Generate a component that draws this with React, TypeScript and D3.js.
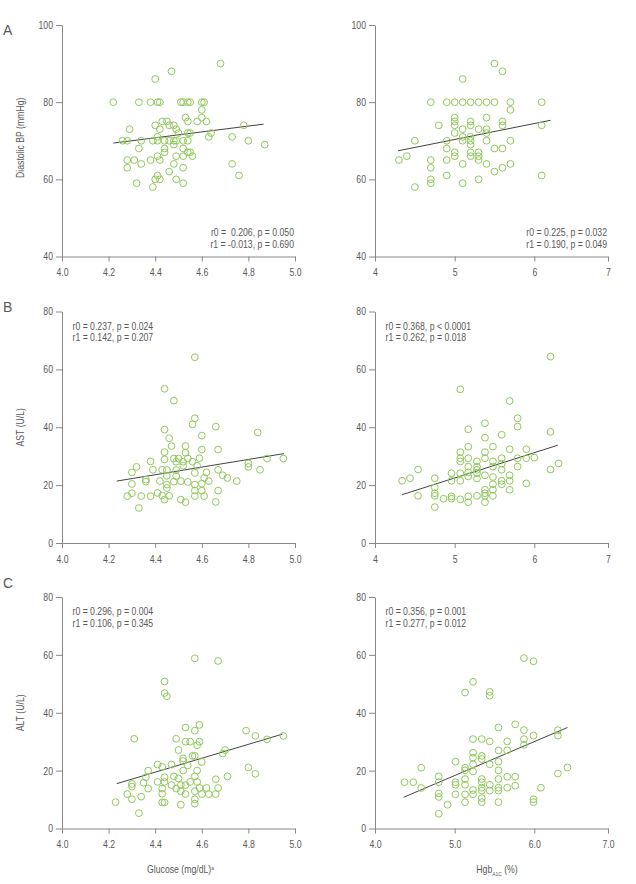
import React, { useEffect, useRef } from 'react';
import * as d3 from 'd3';

type Pt = [number, number];

// x: log glucose, y: diastolic BP
const glucoseDbp: Pt[] = [
  [4.22, 80], [4.33, 80], [4.38, 80], [4.41, 80], [4.42, 80], [4.51, 80], [4.52, 80], [4.54, 80], [4.55, 80], [4.6, 80], [4.61, 80],
  [4.68, 90], [4.47, 88], [4.4, 86], [4.6, 78], [4.53, 76], [4.6, 76],
  [4.43, 75], [4.45, 75], [4.54, 75], [4.58, 75], [4.62, 75],
  [4.4, 74], [4.46, 74], [4.48, 74], [4.78, 74],
  [4.42, 73], [4.29, 73], [4.49, 73],
  [4.5, 72], [4.54, 72], [4.55, 72], [4.64, 72],
  [4.63, 71], [4.73, 71], [4.41, 71],
  [4.26, 70], [4.28, 70], [4.34, 70], [4.39, 70], [4.41, 70], [4.44, 70], [4.46, 70], [4.48, 70], [4.49, 70], [4.52, 70], [4.54, 70], [4.8, 70],
  [4.87, 69], [4.48, 69],
  [4.33, 68], [4.44, 68], [4.52, 68],
  [4.44, 67], [4.54, 67], [4.55, 67],
  [4.41, 66], [4.49, 66], [4.52, 66], [4.56, 66],
  [4.28, 65], [4.31, 65], [4.38, 65], [4.42, 65],
  [4.34, 64], [4.48, 64], [4.73, 64],
  [4.28, 63], [4.52, 63],
  [4.46, 62],
  [4.41, 61], [4.76, 61],
  [4.4, 60], [4.42, 60], [4.49, 60],
  [4.32, 59], [4.52, 59],
  [4.39, 58],
];

// x: HbA1c, y: diastolic BP
const hgbDbp: Pt[] = [
  [4.3, 65], [4.4, 66], [4.5, 70], [4.5, 58],
  [4.7, 80], [4.7, 65], [4.7, 63], [4.7, 60], [4.7, 59],
  [4.8, 74],
  [4.9, 80], [4.9, 70], [4.9, 68], [4.9, 65], [4.9, 61],
  [5.0, 80], [5.0, 76], [5.0, 75], [5.0, 74], [5.0, 72], [5.0, 67], [5.0, 66],
  [5.1, 86], [5.1, 80], [5.1, 73], [5.1, 71], [5.1, 70], [5.1, 64], [5.1, 59],
  [5.2, 80], [5.2, 75], [5.2, 74], [5.2, 71], [5.2, 70], [5.2, 69], [5.2, 67], [5.2, 66],
  [5.3, 80], [5.3, 73], [5.3, 67], [5.3, 66], [5.3, 65], [5.3, 60],
  [5.4, 80], [5.4, 76], [5.4, 73], [5.4, 72], [5.4, 70], [5.4, 64],
  [5.5, 90], [5.5, 80], [5.5, 68], [5.5, 62],
  [5.6, 88], [5.6, 75], [5.6, 74], [5.6, 68], [5.6, 63],
  [5.7, 80], [5.7, 78], [5.7, 70], [5.7, 64],
  [6.1, 80], [6.1, 74], [6.1, 61],
];

// x: log glucose, y: AST
const glucoseAst: Pt[] = [
  [4.57, 64.2], [4.44, 53.3], [4.48, 49.2], [4.57, 43.1], [4.56, 41.0], [4.66, 40.2], [4.44, 39.2], [4.84, 38.2], [4.6, 37.1], [4.46, 36.2],
  [4.47, 33.5], [4.53, 33.5], [4.6, 32.3], [4.67, 32.3], [4.44, 31.4], [4.53, 31.2],
  [4.48, 29.2], [4.5, 29.2], [4.54, 29.2], [4.59, 29.3], [4.44, 28.9], [4.49, 28.1], [4.52, 28.1], [4.38, 28.2], [4.56, 28.1], [4.88, 29.2], [4.95, 29.2],
  [4.8, 27.5], [4.8, 26.3], [4.58, 26.7], [4.32, 26.3], [4.52, 26.7],
  [4.3, 24.4], [4.39, 25.3], [4.43, 25.3], [4.45, 25.2], [4.67, 25.3], [4.85, 25.3], [4.62, 24.4], [4.57, 24.2],
  [4.69, 23.4], [4.71, 22.5], [4.49, 23.1], [4.45, 23.2], [4.36, 21.9], [4.42, 21.4], [4.48, 21.2], [4.51, 21.4], [4.54, 21.1], [4.61, 22.5], [4.63, 21.4], [4.75, 21.4], [4.36, 21.2],
  [4.3, 20.4], [4.45, 20.2], [4.57, 20.2], [4.6, 20.5], [4.45, 19.0],
  [4.6, 18.1], [4.67, 18.1], [4.57, 18.1], [4.41, 17.3], [4.3, 17.2],
  [4.28, 16.2], [4.34, 16.2], [4.38, 16.2], [4.43, 16.4], [4.46, 16.3], [4.57, 16.2], [4.61, 16.2],
  [4.44, 15.0], [4.51, 15.0], [4.53, 14.1], [4.66, 14.2], [4.33, 12.1], [4.49, 25.2],
];

// x: HbA1c, y: AST
const hgbAst: Pt[] = [
  [4.34, 21.5], [4.44, 22.4], [4.54, 25.4], [4.54, 16.3],
  [4.75, 22.4], [4.75, 19.2], [4.75, 17.2], [4.75, 16.3], [4.75, 12.4],
  [4.86, 15.3],
  [4.96, 24.1], [4.96, 21.5], [4.96, 16.1], [4.96, 15.3],
  [5.07, 53.1], [5.07, 31.4], [5.07, 29.3], [5.07, 28.2], [5.07, 24.1], [5.07, 21.5], [5.07, 15.1],
  [5.17, 39.3], [5.17, 33.3], [5.17, 29.3], [5.17, 26.4], [5.17, 24.4], [5.17, 23.0], [5.17, 16.1], [5.17, 14.1],
  [5.28, 28.2], [5.28, 26.4], [5.28, 25.3], [5.28, 24.1], [5.28, 22.3], [5.28, 16.3],
  [5.38, 41.4], [5.38, 36.4], [5.38, 31.4], [5.38, 29.3], [5.38, 23.4], [5.38, 18.4], [5.38, 17.2], [5.38, 16.3], [5.38, 14.1],
  [5.48, 33.3], [5.48, 28.2], [5.48, 26.4], [5.48, 22.8], [5.48, 20.3], [5.48, 18.4], [5.48, 16.3],
  [5.59, 37.4], [5.59, 29.3], [5.59, 27.4], [5.59, 25.3], [5.59, 21.5], [5.59, 20.3],
  [5.69, 49.1], [5.69, 32.4], [5.69, 23.4], [5.69, 21.5], [5.69, 18.4],
  [5.79, 43.1], [5.79, 40.2], [5.79, 29.3], [5.79, 26.4],
  [5.9, 32.4], [5.9, 29.3], [5.9, 20.6],
  [6.0, 29.5],
  [6.22, 64.4], [6.22, 38.4], [6.22, 25.4],
  [6.33, 27.5],
];

// x: log glucose, y: ALT
const glucoseAlt: Pt[] = [
  [4.57, 58.8], [4.67, 57.9], [4.44, 50.8], [4.44, 46.8], [4.45, 45.7],
  [4.59, 35.8], [4.53, 34.9], [4.57, 33.8], [4.79, 33.8], [4.83, 32.0], [4.95, 32.0], [4.88, 30.8],
  [4.31, 31.0], [4.49, 31.0], [4.53, 30.0], [4.55, 30.0], [4.59, 30.0], [4.58, 28.8],
  [4.5, 27.1], [4.7, 27.1], [4.69, 25.9], [4.56, 25.1], [4.57, 25.1], [4.52, 24.2], [4.52, 23.3], [4.6, 23.0],
  [4.47, 22.1], [4.41, 22.1], [4.43, 21.3], [4.37, 20.0], [4.52, 20.0], [4.58, 20.0], [4.8, 21.1], [4.54, 21.8],
  [4.36, 17.7], [4.44, 17.7], [4.48, 18.0], [4.57, 18.0], [4.66, 17.0], [4.71, 18.0], [4.83, 18.9], [4.5, 17.3],
  [4.41, 16.1], [4.44, 16.1], [4.35, 15.8], [4.3, 15.4], [4.55, 16.1], [4.58, 16.1],
  [4.47, 15.0], [4.51, 15.0], [4.3, 14.5], [4.37, 13.8], [4.43, 13.8], [4.49, 13.8], [4.53, 15.0],
  [4.59, 14.0], [4.62, 14.0], [4.67, 14.0], [4.51, 12.9], [4.57, 12.9],
  [4.43, 12.0], [4.6, 11.9], [4.63, 11.9], [4.66, 11.9], [4.53, 11.9], [4.28, 11.9],
  [4.34, 11.0], [4.3, 10.1], [4.57, 10.1], [4.57, 8.6], [4.23, 9.1], [4.43, 9.0], [4.44, 9.0], [4.51, 8.2], [4.33, 5.3],
];

// x: HbA1c, y: ALT
const hgbAlt: Pt[] = [
  [5.87, 58.9], [5.99, 57.8], [5.23, 50.7], [5.13, 47.0], [5.44, 47.2], [5.44, 45.9],
  [5.76, 36.0], [5.55, 34.9], [5.87, 34.0], [6.32, 34.0], [6.32, 32.1], [5.99, 32.1],
  [5.23, 30.9], [5.34, 30.9], [5.44, 30.1], [5.66, 30.1], [5.87, 30.9], [5.87, 28.9],
  [5.55, 27.0], [5.66, 27.0], [5.23, 26.2], [5.23, 24.5], [5.34, 25.1], [5.34, 24.0],
  [5.01, 23.1], [5.55, 23.1], [5.23, 22.2], [5.44, 22.2], [5.13, 21.0], [5.13, 20.1], [5.23, 19.7], [5.55, 20.1],
  [4.58, 21.0], [6.45, 21.1], [6.32, 19.0],
  [4.8, 18.0], [5.66, 17.9], [5.76, 17.9], [5.13, 17.1], [5.34, 17.1], [5.55, 17.1],
  [4.37, 16.0], [4.48, 16.0], [4.8, 16.0], [5.01, 16.0], [5.34, 16.0],
  [5.01, 15.1], [5.13, 15.1], [5.44, 15.1], [5.76, 14.8],
  [4.58, 14.0], [5.55, 14.1], [5.66, 14.1], [6.09, 14.1], [5.34, 14.1],
  [5.23, 13.3], [5.44, 13.1], [5.55, 13.1], [5.34, 13.1],
  [4.8, 12.1], [5.01, 11.8], [5.13, 11.8], [5.23, 11.8],
  [4.8, 10.9], [5.34, 10.5], [5.99, 10.1], [5.99, 9.1], [5.34, 9.1], [5.13, 9.1], [5.55, 9.1],
  [4.91, 8.2], [4.8, 5.1],
];

// fitted lines, start and end point
const glucoseDbpFit: Pt[] = [[4.22, 69.4], [4.865, 74.3]];
const hgbDbpFit: Pt[] = [[4.29, 67.4], [6.22, 75.3]];
const glucoseAstFit: Pt[] = [[4.235, 21.4], [4.953, 30.9]];
const hgbAstFit: Pt[] = [[4.34, 16.7], [6.32, 33.8]];
const glucoseAltFit: Pt[] = [[4.235, 15.5], [4.946, 32.6]];
const hgbAltFit: Pt[] = [[4.36, 10.8], [6.45, 34.9]];

const glucoseDbpStats = ['r0 =  0.206, p = 0.050', 'r1 = -0.013, p = 0.690'];
const hgbDbpStats = ['r0 = 0.225, p = 0.032', 'r1 = 0.190, p = 0.049'];
const glucoseAstStats = ['r0 = 0.237, p = 0.024', 'r1 = 0.142, p = 0.207'];
const hgbAstStats = ['r0 = 0.368, p < 0.0001', 'r1 = 0.262, p = 0.018'];
const glucoseAltStats = ['r0 = 0.296, p = 0.004', 'r1 = 0.106, p = 0.345'];
const hgbAltStats = ['r0 = 0.356, p = 0.001', 'r1 = 0.277, p = 0.012'];

const glucoseTicks = [4.0, 4.2, 4.4, 4.6, 4.8, 5.0];
const hgbTicks = [4, 5, 6, 7];
const dbpTicks = [40, 60, 80, 100];
const enzymeTicks = [0, 20, 40, 60, 80];

const rowLetters = ['A', 'B', 'C'];
const rowTitles = ['Diastolic BP (mmHg)', 'AST (U/L)', 'ALT (U/L)'];

const WIDTH = 636;
const HEIGHT = 884;
const FONT = "'Liberation Sans', Arial, sans-serif";
const FS = 10.6;
// horizontal squeeze to get a narrow face out of Liberation Sans
const NARROW = 0.82;
const TEXT = '#5a5a5a';
const AXIS = '#888';
const DOT = '#8fc95a';

const rowTop = [25, 311.5, 597];
const plotH = 231.5;
const leftRange = [62, 295];
// the HbA1c axis is drawn a little short after 6
const rightRange = [375, 454.7, 534.3, 608];

interface Panel {
  row: number;
  col: number;
  points: Pt[];
  fit: Pt[];
  stats: string[];
  yDomain: [number, number];
  yTicks: number[];
  xTicks: number[];
  xFormat: string;
}

const panels: Panel[] = [
  { row: 0, col: 0, points: glucoseDbp, fit: glucoseDbpFit, stats: glucoseDbpStats, yDomain: [40, 100], yTicks: dbpTicks, xTicks: glucoseTicks, xFormat: '.1f' },
  { row: 0, col: 1, points: hgbDbp, fit: hgbDbpFit, stats: hgbDbpStats, yDomain: [40, 100], yTicks: dbpTicks, xTicks: hgbTicks, xFormat: 'd' },
  { row: 1, col: 0, points: glucoseAst, fit: glucoseAstFit, stats: glucoseAstStats, yDomain: [0, 80], yTicks: enzymeTicks, xTicks: glucoseTicks, xFormat: '.1f' },
  { row: 1, col: 1, points: hgbAst, fit: hgbAstFit, stats: hgbAstStats, yDomain: [0, 80], yTicks: enzymeTicks, xTicks: hgbTicks, xFormat: 'd' },
  { row: 2, col: 0, points: glucoseAlt, fit: glucoseAltFit, stats: glucoseAltStats, yDomain: [0, 80], yTicks: enzymeTicks, xTicks: glucoseTicks, xFormat: '.1f' },
  { row: 2, col: 1, points: hgbAlt, fit: hgbAltFit, stats: hgbAltStats, yDomain: [0, 80], yTicks: enzymeTicks, xTicks: hgbTicks, xFormat: '.1f' },
];

type Sel = d3.Selection<any, unknown, null, undefined>;

// narrow text placed at (x, y)
const label = (parent: Sel, x: number, y: number, extra = '') =>
  parent
    .append('text')
    .attr('transform', `translate(${x},${y}) ${extra} scale(${NARROW},1)`)
    .attr('font-family', FONT)
    .attr('font-size', FS)
    .attr('fill', TEXT)
    .style('white-space', 'pre');

const App: React.FC = () => {
  const svgRef = useRef<SVGSVGElement>(null);

  useEffect(() => {
    const svg = d3.select(svgRef.current) as Sel;
    svg.selectAll('*').remove();

    panels.forEach(p => {
      const top = rowTop[p.row];
      const bottom = top + plotH;

      const x =
        p.col === 0
          ? d3.scaleLinear().domain([4, 5]).range(leftRange)
          : d3.scaleLinear().domain([4, 5, 6, 7]).range(rightRange);
      const y = d3.scaleLinear().domain(p.yDomain).range([bottom, top]);

      const g = svg.append('g');

      // axes
      const yAxis = g
        .append('g')
        .attr('transform', `translate(${x.range()[0]},0)`)
        .call(d3.axisLeft(y).tickValues(p.yTicks).tickSize(6).tickSizeOuter(0).tickPadding(3));
      yAxis.selectAll('text').attr('x', -9 / NARROW);
      const xAxis = g
        .append('g')
        .attr('transform', `translate(0,${bottom})`)
        .call(
          d3
            .axisBottom(x)
            .tickValues(p.xTicks)
            .tickSize(5)
            .tickSizeOuter(0)
            .tickPadding(7)
            .tickFormat(d3.format(p.xFormat) as any)
        );
      [yAxis, xAxis].forEach(a => {
        a.attr('font-family', FONT).attr('font-size', FS);
        a.selectAll('path, line').attr('stroke', AXIS).attr('stroke-width', 1);
        a.selectAll('text').attr('fill', TEXT).attr('transform', `scale(${NARROW},1)`);
      });

      // regression line
      g.append('line')
        .attr('x1', x(p.fit[0][0]))
        .attr('y1', y(p.fit[0][1]))
        .attr('x2', x(p.fit[1][0]))
        .attr('y2', y(p.fit[1][1]))
        .attr('stroke', '#444')
        .attr('stroke-width', 1);

      // data points
      g.selectAll('circle')
        .data(p.points)
        .enter()
        .append('circle')
        .attr('cx', d => x(d[0]))
        .attr('cy', d => y(d[1]))
        .attr('r', 3.4)
        .attr('fill', 'none')
        .attr('stroke', DOT)
        .attr('stroke-width', 1);

      // correlation text: bottom-right on the BP row, top-left below
      const xr = x.range();
      p.stats.forEach((s, i) => {
        if (p.row === 0) {
          label(g, xr[xr.length - 1] - 1, bottom - 20.5 + i * 11.5)
            .attr('text-anchor', 'end')
            .text(s);
        } else {
          label(g, xr[0] + 10.5, top + 18 + i * 11.5).text(s);
        }
      });
    });

    // row letters and y titles
    rowLetters.forEach((letter, i) => {
      svg
        .append('text')
        .attr('x', 3)
        .attr('y', [35, 312, 588][i])
        .attr('font-family', FONT)
        .attr('font-size', 14)
        .attr('fill', TEXT)
        .text(letter);
      label(svg, 24, rowTop[i] + plotH / 2 - (i === 0 ? 3 : 0), 'rotate(-90)')
        .attr('text-anchor', 'middle')
        .text(rowTitles[i]);
    });

    // x titles
    const glucoseTitle = label(svg, 180.5, 873).attr('text-anchor', 'middle');
    glucoseTitle.append('tspan').text('Glucose (mg/dL)');
    glucoseTitle.append('tspan').attr('font-size', 6).attr('dy', -3.5).text('a');

    const hgbTitle = label(svg, 497, 873).attr('text-anchor', 'middle');
    hgbTitle.append('tspan').text('Hgb');
    hgbTitle.append('tspan').attr('font-size', 6).attr('dy', 3).text('A1C');
    hgbTitle.append('tspan').attr('dy', -3).text(' (%)');
  }, []);

  return (
    <div style={{ position: 'absolute', left: 0, top: 0, background: '#fff' }}>
      <svg ref={svgRef} width={WIDTH} height={HEIGHT} style={{ display: 'block' }} />
    </div>
  );
};

export default App;
